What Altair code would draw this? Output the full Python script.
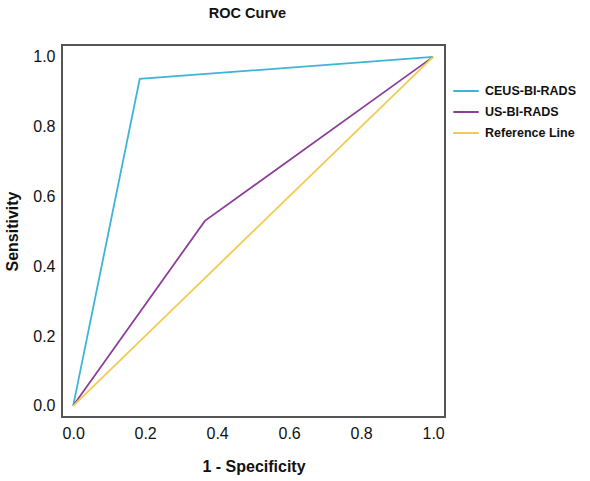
import altair as alt
import pandas as pd

# ROC points (1 - specificity, sensitivity) per classifier
ceus_fpr = [0.0, 0.185, 1.0]
ceus_tpr = [0.0, 0.937, 1.0]
us_fpr = [0.0, 0.366, 1.0]
us_tpr = [0.0, 0.53, 1.0]
ref_fpr = [0.0, 1.0]
ref_tpr = [0.0, 1.0]

series = ["CEUS-BI-RADS", "US-BI-RADS", "Reference Line"]
colors = ["#3db5d6", "#8b3f98", "#f3cb50"]

rows = []
for name, xs, ys in zip(series, [ceus_fpr, us_fpr, ref_fpr], [ceus_tpr, us_tpr, ref_tpr]):
    for i, (x, y) in enumerate(zip(xs, ys)):
        rows.append({"series": name, "fpr": x, "tpr": y, "order": i})
df = pd.DataFrame(rows)

font = "Liberation Sans"
tick_vals = [0.0, 0.2, 0.4, 0.6, 0.8, 1.0]

chart = (
    alt.Chart(df)
    .mark_line(strokeWidth=1.8)
    .encode(
        x=alt.X(
            "fpr:Q",
            scale=alt.Scale(domain=[-0.031, 1.033], nice=False, zero=False),
            axis=alt.Axis(
                title="1 - Specificity",
                values=tick_vals,
                format=".1f",
                grid=False,
                domain=False,
                ticks=False,
                labelPadding=8,
                titlePadding=17,
            ),
        ),
        y=alt.Y(
            "tpr:Q",
            scale=alt.Scale(domain=[-0.032, 1.034], nice=False, zero=False),
            axis=alt.Axis(
                title="Sensitivity",
                values=tick_vals,
                format=".1f",
                grid=False,
                domain=False,
                ticks=False,
                labelPadding=7,
                titlePadding=12,
            ),
        ),
        color=alt.Color(
            "series:N",
            scale=alt.Scale(domain=series, range=colors),
            legend=alt.Legend(
                title=None,
                orient="none",
                legendX=390,
                legendY=32,
                symbolType="stroke",
                symbolSize=650,
                symbolStrokeWidth=2,
                labelFontSize=12.5,
                labelFontWeight="bold",
                labelFont=font,
                labelColor="#111",
                rowPadding=-5,
                labelOffset=5,
            ),
        ),
        order="order:O",
        detail="series:N",
    )
    .properties(
        width=383,
        height=372,
        title=alt.Title("ROC Curve", fontSize=14.5, fontWeight="bold", font=font, color="#111", offset=24, dx=-6),
        autosize=alt.AutoSizeParams(type="none"),
        padding={"left": 62, "top": 45, "right": 145, "bottom": 64},
    )
    .configure_view(stroke="#555555", strokeWidth=2)
    .configure_axis(
        labelFont=font,
        labelFontSize=16,
        labelColor="#111",
        titleFont=font,
        titleFontSize=16,
        titleFontWeight="bold",
        titleColor="#111",
    )
)

chart.save("out.html", embed_options={"renderer": "svg", "actions": False})
